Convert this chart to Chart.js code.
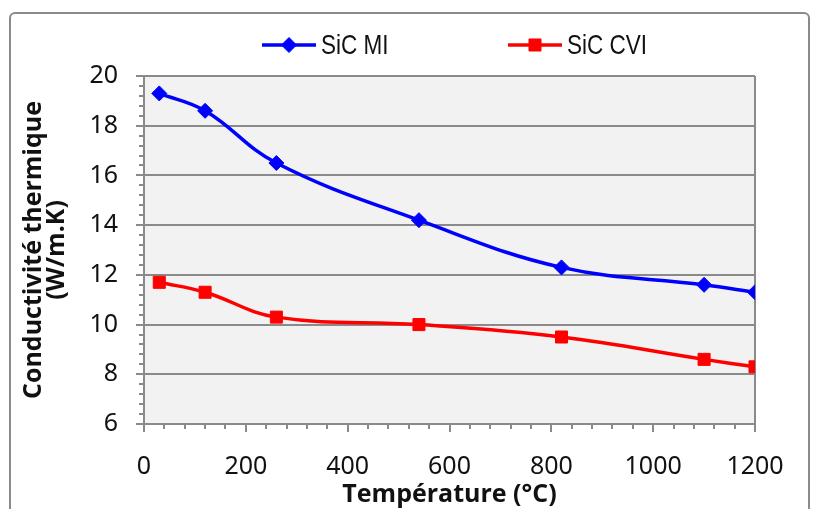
<!DOCTYPE html>
<html><head><meta charset="utf-8">
<script src="https://cdn.jsdelivr.net/npm/chart.js@4/dist/chart.umd.min.js"></script>
<style>html,body{margin:0;padding:0;background:#fff;overflow:hidden}</style>
</head><body>
<canvas id="c" width="813" height="509"></canvas>
<script>
const temperatures = [30, 120, 260, 540, 820, 1100, 1200];
const sicMI = [19.3, 18.6, 16.5, 14.2, 12.3, 11.6, 11.3];
const sicCVI = [11.7, 11.3, 10.3, 10.0, 9.5, 8.6, 8.3];
const seriesNames = ['SiC MI', 'SiC CVI'];
const xTicks = [0, 200, 400, 600, 800, 1000, 1200];
const yTicks = [6, 8, 10, 12, 14, 16, 18, 20];
const xTitle = 'Température (°C)';
const yTitle = ['Conductivité thermique', '(W/m.K)'];

const GRAY = '#8a8a8a';
const TXT = '#111';

const toPts = (ys) => temperatures.map((t, i) => ({x: t, y: ys[i]}));

const framePlugin = {
  id: 'frame',
  beforeDraw(chart) {
    const {ctx, chartArea: a} = chart;
    ctx.save();
    ctx.fillStyle = '#fff';
    ctx.fillRect(0, 0, chart.width, chart.height);
    ctx.strokeStyle = GRAY; ctx.lineWidth = 2;
    ctx.beginPath();
    if (ctx.roundRect) ctx.roundRect(10, 13, 799, 520, 5); else ctx.rect(10, 13, 799, 520);
    ctx.stroke();
    ctx.fillStyle = '#f2f2f2';
    ctx.fillRect(a.left, a.top, a.right - a.left, a.bottom - a.top);
    ctx.restore();
  }
};

const legendPlugin = {
  id: 'customLegend',
  afterDraw(chart) {
    const {ctx} = chart;
    const starts = [262, 508];
    const y = 45;
    ctx.save();
    chart.data.datasets.forEach((ds, i) => {
      const x0 = starts[i], len = 54;
      ctx.strokeStyle = ds.borderColor; ctx.lineWidth = ds.borderWidth;
      ctx.beginPath(); ctx.moveTo(x0, y); ctx.lineTo(x0 + len, y); ctx.stroke();
      ctx.fillStyle = ds.backgroundColor; ctx.strokeStyle = ds.borderColor; ctx.lineWidth = 1;
      Chart.helpers.drawPoint(ctx, {pointStyle: ds.pointStyle, radius: ds.pointRadius, borderWidth: 1}, x0 + len / 2, y);
      ctx.save();
      ctx.translate(x0 + len + 5, y + 1);
      ctx.scale(0.79, 1);
      ctx.fillStyle = TXT;
      ctx.font = '28.5px "Liberation Sans", Arial, sans-serif';
      ctx.textBaseline = 'middle'; ctx.textAlign = 'left';
      ctx.fillText(ds.label, 0, 0);
      ctx.restore();
    });
    ctx.restore();
  }
};

new Chart(document.getElementById('c'), {
  type: 'line',
  data: {
    datasets: [
      {label: seriesNames[0], data: toPts(sicMI), borderColor: '#0000ff', backgroundColor: '#0000ff',
       borderWidth: 3.5, pointStyle: 'rectRot', pointRadius: 7.5, pointBorderWidth: 1, tension: 0.4, fill: false},
      {label: seriesNames[1], data: toPts(sicCVI), borderColor: '#ff0000', backgroundColor: '#ff0000',
       borderWidth: 3.5, pointStyle: 'rect', pointRadius: 8.5, pointBorderWidth: 1, tension: 0.4, fill: false}
    ]
  },
  options: {
    responsive: false, animation: false, devicePixelRatio: 1,
    layout: {padding: {top: 76, right: 58, bottom: 0, left: 0}},
    plugins: {legend: {display: false}, tooltip: {enabled: false}},
    scales: {
      x: {
        type: 'linear', position: 'bottom', min: 0, max: 1200, weight: 1,
        afterBuildTicks: s => { s.ticks = xTicks.map(v => ({value: v})); },
        ticks: {font: {family: '"Noto Sans", sans-serif', size: 25}, color: TXT, padding: 20, maxRotation: 0,
                callback: v => String(v)},
        grid: {drawOnChartArea: true, color: c => (c.tick && c.tick.value === 1200) ? GRAY : 'rgba(0,0,0,0)',
               tickColor: GRAY, tickLength: 8, lineWidth: 2, tickWidth: 2},
        border: {display: true, color: GRAY, width: 2},
        title: {display: true, text: xTitle, font: {family: '"Open Sans", sans-serif', size: 25, weight: 'bold', lineHeight: 1.1},
                color: TXT, padding: {top: 0, bottom: 0}},
        afterFit: s => { s.height = 85; }
      },
      xMinor: {
        type: 'linear', position: 'bottom', min: 0, max: 1200, weight: -1,
        ticks: {display: false, stepSize: 40, maxTicksLimit: 100},
        grid: {drawOnChartArea: false, color: GRAY, tickLength: 5, lineWidth: 2},
        border: {display: false},
        afterFit: s => { s.height = 0; }
      },
      y: {
        type: 'linear', position: 'left', min: 6, max: 20, weight: 1,
        afterBuildTicks: s => { s.ticks = yTicks.map(v => ({value: v})); },
        ticks: {font: {family: '"Noto Sans", sans-serif', size: 25}, color: TXT, padding: 18, callback: v => String(v)},
        grid: {color: GRAY, lineWidth: 2, tickLength: 8},
        border: {display: true, color: GRAY, width: 2},
        title: {display: true, text: yTitle, font: {family: '"Open Sans", sans-serif', size: 25, weight: 'bold', lineHeight: 0.93},
                color: TXT, padding: {top: 22, bottom: 0}},
        afterFit: s => { s.width = 144; }
      },
      yMinor: {
        type: 'linear', position: 'left', min: 6, max: 20, weight: -1,
        ticks: {display: false, stepSize: 0.4, maxTicksLimit: 100},
        grid: {drawOnChartArea: false, color: GRAY, tickLength: 5, lineWidth: 2},
        border: {display: false},
        afterFit: s => { s.width = 0; }
      }
    }
  },
  plugins: [framePlugin, legendPlugin]
});
</script>
</body></html>
